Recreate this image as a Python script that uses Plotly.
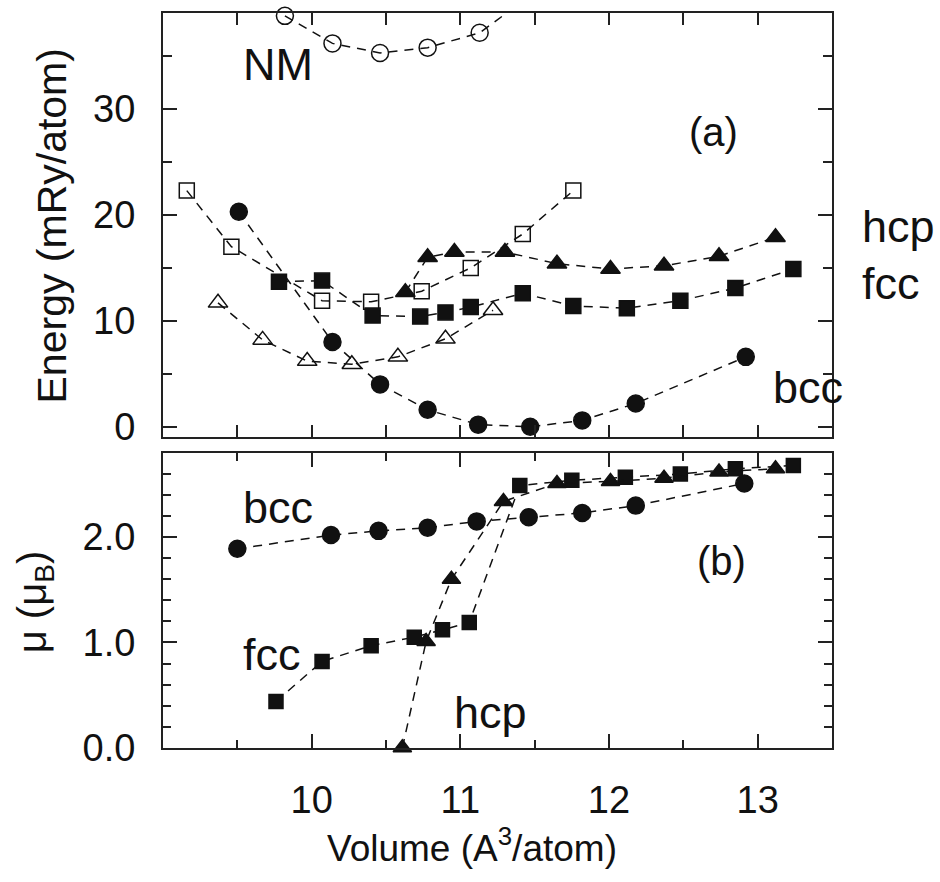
import plotly.graph_objects as go

# ---------------- data ----------------
# Panel (a): energy (mRy/atom) vs volume (A^3/atom)
nm_vol = [9.82, 10.14, 10.46, 10.78, 11.13, 11.45]
nm_en = [38.8, 36.2, 35.3, 35.8, 37.2, 40.5]

fcc_nm_vol = [9.16, 9.46, 10.07, 10.40, 10.74, 11.07, 11.42, 11.76]
fcc_nm_en = [22.3, 17.0, 11.9, 11.8, 12.8, 15.0, 18.2, 22.3]

hcp_nm_vol = [9.37, 9.67, 9.97, 10.27, 10.58, 10.90, 11.22]
hcp_nm_en = [11.7, 8.2, 6.2, 5.9, 6.6, 8.3, 11.0]

fcc_vol = [9.78, 10.07, 10.41, 10.73, 10.90, 11.07, 11.42, 11.76, 12.12, 12.48, 12.85, 13.24]
fcc_en = [13.7, 13.8, 10.5, 10.4, 10.8, 11.3, 12.6, 11.4, 11.2, 11.9, 13.1, 14.9]

hcp_vol = [10.63, 10.78, 10.96, 11.30, 11.65, 12.01, 12.37, 12.74, 13.12]
hcp_en = [12.7, 16.0, 16.5, 16.5, 15.4, 14.9, 15.2, 16.1, 17.9]

bcc_vol = [9.51, 10.14, 10.46, 10.78, 11.12, 11.47, 11.82, 12.18, 12.92]
bcc_en = [20.3, 8.0, 4.0, 1.6, 0.2, 0.0, 0.6, 2.2, 6.6]

# Panel (b): magnetic moment (mu_B) vs volume
bcc_mu_vol = [9.50, 10.13, 10.45, 10.78, 11.11, 11.46, 11.82, 12.18, 12.91]
bcc_mu = [1.89, 2.02, 2.06, 2.09, 2.15, 2.19, 2.23, 2.30, 2.51]

fcc_mu_vol = [9.76, 10.07, 10.40, 10.69, 10.88, 11.06, 11.40, 11.75, 12.11, 12.48, 12.85, 13.24]
fcc_mu = [0.44, 0.82, 0.97, 1.05, 1.12, 1.19, 2.49, 2.54, 2.57, 2.60, 2.65, 2.68]

hcp_mu_vol = [10.61, 10.77, 10.94, 11.29, 11.65, 12.01, 12.37, 12.74, 13.12]
hcp_mu = [0.0, 1.01, 1.60, 2.34, 2.51, 2.53, 2.56, 2.62, 2.65]

x_ticks = [10, 11, 12, 13]

# ---------------- layout helpers ----------------
W, H = 940, 882


def px(x):
    return x / W


def py(y):
    return 1 - y / H


INK = "#111111"
DASH = "9px,7px"
FONT = "Liberation Sans, Arial, sans-serif"

fig = go.Figure()


def add(xv, yv, symbol, size, xa, ya, mode="lines+markers", clip=False):
    fig.add_trace(go.Scatter(
        x=xv, y=yv, mode=mode, xaxis=xa, yaxis=ya,
        line=dict(color=INK, width=1.5, dash=DASH),
        marker=dict(symbol=symbol, size=size, color=INK,
                    line=dict(color=INK, width=1.5)),
        cliponaxis=clip, showlegend=False, hoverinfo="skip"))


# panel (a) on x2/y2
add(nm_vol, nm_en, "circle", 1, "x2", "y2", mode="lines", clip=True)
add(nm_vol[:5], nm_en[:5], "circle-open", 17, "x2", "y2", mode="markers")
add(fcc_nm_vol, fcc_nm_en, "square-open", 15, "x2", "y2")
add(hcp_nm_vol, hcp_nm_en, "triangle-up-open", 17, "x2", "y2")
add(fcc_vol, fcc_en, "square", 15, "x2", "y2")
add(hcp_vol, hcp_en, "triangle-up", 17, "x2", "y2")
add(bcc_vol, bcc_en, "circle", 17, "x2", "y2")

# panel (b) on x/y
add(bcc_mu_vol, bcc_mu, "circle", 17, "x", "y")
add(fcc_mu_vol, fcc_mu, "square", 14, "x", "y")
add(hcp_mu_vol, hcp_mu, "triangle-up", 16, "x", "y")

xdom = [px(163), px(832)]
axis_common = dict(showline=True, linecolor="#222222", linewidth=2,
                   mirror="ticks", ticks="inside", tickcolor="#222222",
                   tickwidth=1.5, showgrid=False, zeroline=False,
                   tickfont=dict(family=FONT, size=38, color=INK))

fig.update_layout(
    width=W, height=H,
    margin=dict(l=0, r=0, t=0, b=0),
    paper_bgcolor="white", plot_bgcolor="white",
    xaxis=dict(domain=xdom, anchor="y", range=[9.0, 13.5],
               tickmode="array", tickvals=x_ticks, ticklen=14,
               ticklabelstandoff=18,
               minor=dict(dtick=0.5, tick0=9.0, ticklen=8, ticks="inside",
                          tickcolor="#222222", tickwidth=1.5),
               **axis_common),
    yaxis=dict(domain=[py(766), py(464)], anchor="x", range=[0, 2.8],
               tickmode="linear", tick0=0, dtick=1, tickformat=".1f",
               ticklen=14, ticklabelstandoff=18,
               minor=dict(dtick=0.2, tick0=0, ticklen=8, ticks="inside",
                          tickcolor="#222222", tickwidth=1.5),
               **axis_common),
    xaxis2=dict(domain=xdom, anchor="y2", range=[9.0, 13.5],
                tickmode="linear", tick0=9.0, dtick=0.5, ticklen=12,
                showticklabels=False, matches="x", **axis_common),
    yaxis2=dict(domain=[py(448), py(13)], anchor="x2", range=[-1.0, 39.1],
                tickmode="linear", tick0=0, dtick=10, ticklen=14,
                ticklabelstandoff=18,
                minor=dict(dtick=5, tick0=0, ticklen=9, ticks="inside",
                           tickcolor="#222222", tickwidth=1.5),
                **axis_common),
)

ann = []


def label(text, x, y, size, angle=0):
    ann.append(dict(text=text, x=px(x), y=py(y), xref="paper", yref="paper",
                    showarrow=False, textangle=angle,
                    font=dict(family=FONT, size=size, color=INK),
                    xanchor="center", yanchor="middle"))


label("Energy (mRy/atom)", 52, 232, 41, -90)
label("μ (μ<sub>B</sub>)", 35, 617, 40, -90)
label("Volume (A<sup>3</sup>/atom)", 472, 866, 37)
label("(a)", 713, 135, 40)
label("(b)", 721, 575, 40)
label("NM", 278, 66, 45)
label("hcp", 898, 232, 45)
label("fcc", 891, 290, 45)
label("bcc", 808, 397, 45)
label("bcc", 278, 520, 45)
label("fcc", 272, 670, 45)
label("hcp", 491, 730, 45)
fig.update_layout(annotations=ann)

fig.write_html("out.html")
